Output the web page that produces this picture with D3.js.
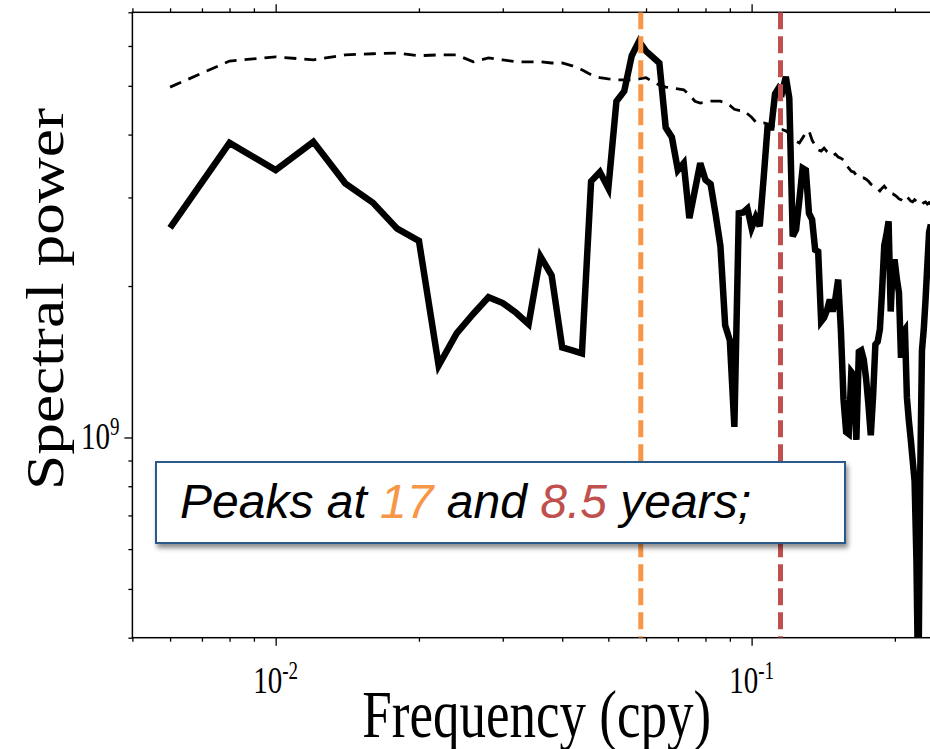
<!DOCTYPE html>
<html>
<head>
<meta charset="utf-8">
<script src="https://cdn.jsdelivr.net/npm/d3@7"></script>
<style>
  body { margin: 0; background: #fff; }
  svg { display: block; }
  .axis path { stroke: none; }
  .axis line { stroke: #000; stroke-width: 1.3; }
</style>
</head>
<body>
<div id="chart"></div>
<script>
// periodogram bins are 0.002 cpy apart, first bin k = 3
var binStep = 0.002;
var firstBin = 3;

// spectral power of the record, in units of 1e9
var spectrum = [
  2.61, 3.85, 3.40, 3.87, 3.20, 2.93, 2.60, 2.46, 1.39, 1.61,
  1.76, 1.90, 1.85, 1.77, 1.68, 2.29, 2.10, 1.51, 1.49, 1.47,
  3.23, 3.37, 3.13, 4.66, 4.88, 5.74, 6.13, 5.86, 5.70, 5.55,
  4.13, 3.95, 3.40, 3.51, 2.73, 3.10, 3.51, 3.25, 3.19, 2.78,
  2.40, 1.67, 1.56, 1.05, 2.79, 2.80, 2.85, 2.61, 2.74, 2.63,
  3.28, 4.13, 4.13, 4.82, 4.95, 4.87, 5.21, 4.73, 2.51, 2.59,
  2.97, 3.43, 3.40, 2.79, 2.71, 2.36, 2.34, 1.70, 1.73, 1.79,
  1.88, 1.78, 1.89, 2.06, 1.64, 1.19, 1.025, 1.016, 1.35, 1.33,
  0.989, 1.48, 1.49, 1.43, 1.31, 1.16, 1.01, 1.21, 1.53, 1.55,
  1.64, 1.96, 2.41, 2.53, 2.69, 1.78, 2.23, 2.23, 2.06, 1.94,
  1.44, 1.62, 1.64, 1.20, 1.08, 0.99, 0.90, 0.82, 0.57, 0.30,
  0.82, 1.49, 1.64, 1.88, 2.20, 2.56, 2.65
];

// significance level (dashed), same bins, units of 1e9
var noiseLevel = [
  4.97, 5.60, 5.71, 5.63, 5.76, 5.79, 5.81, 5.74, 5.76, 5.76,
  5.58, 5.68, 5.63, 5.58, 5.58, 5.58, 5.55, 5.55, 5.48, 5.38,
  5.26, 5.19, 5.16, 5.14, 5.14, 5.14, 5.16, 5.19, 5.09, 5.02,
  4.97, 4.95, 4.93, 4.91, 4.80, 4.66, 4.62, 4.64, 4.66, 4.66,
  4.66, 4.62, 4.57, 4.49, 4.47, 4.47, 4.40, 4.33, 4.24, 4.22,
  4.22, 4.20, 4.18, 4.13, 4.09, 4.09, 4.07, 4.01, 3.95, 3.88,
  3.85, 3.94, 4.03, 4.07, 3.90, 3.80, 3.73, 3.71, 3.76, 3.70,
  3.66, 3.63, 3.66, 3.61, 3.59, 3.56, 3.48, 3.43, 3.38, 3.37,
  3.32, 3.29, 3.28, 3.28, 3.26, 3.23, 3.19, 3.16, 3.13, 3.12,
  3.09, 3.13, 3.16, 3.12, 3.08, 3.06, 3.05, 3.03, 3.01, 2.98,
  2.97, 2.95, 2.98, 3.01, 2.98, 2.95, 2.94, 2.97, 2.95, 2.93,
  2.91, 2.90, 2.93, 2.94, 2.91, 2.93, 2.91
];

var peakFreqs = [0.0585, 0.115];
var peakColors = ['#F79646', '#C0504D'];
var peakLabels = ['17', '8.5'];

var xMajor = [0.01, 0.1];
var xMajorExp = ['-2', '-1'];
var xMinor = [0.005, 0.006, 0.007, 0.008, 0.009, 0.02, 0.03, 0.04, 0.05,
  0.06, 0.07, 0.08, 0.09, 0.2];
var yMajor = [1e9];
var yMajorExp = ['9'];
var yMinor = [4e8, 5e8, 6e8, 7e8, 8e8, 9e8, 2e9, 3e9, 4e9, 5e9, 6e9, 7e9];

var W = 930, H = 749;
var plot = { left: 132.4, right: 941, top: 12.3, bottom: 637.7 };
var stretch = 1.28; // the whole figure is pulled taller than wide
var serif = '"Liberation Serif", "Times New Roman", serif';

var svg = d3.select('#chart').append('svg')
  .attr('width', W)
  .attr('height', H);

var xScale = d3.scaleLog()
  .domain([0.005, 0.25])
  .range([plot.left, plot.right]);

var yScale = d3.scaleLog()
  .domain([4e8, 7e9])
  .range([plot.bottom, plot.top]);

var rows = spectrum.map(function(d, i) {
  return {
    f: (firstBin + i) * binStep,
    p: d * 1e9,
    n: noiseLevel[i] * 1e9
  };
});

var defs = svg.append('defs');
defs.append('clipPath')
  .attr('id', 'plot-clip')
  .append('rect')
  .attr('x', plot.left)
  .attr('y', plot.top)
  .attr('width', plot.right - plot.left)
  .attr('height', plot.bottom - plot.top);

var shadow = defs.append('filter')
  .attr('id', 'shadow')
  .attr('x', '-10%').attr('y', '-20%')
  .attr('width', '120%').attr('height', '150%');
shadow.append('feDropShadow')
  .attr('dx', 2).attr('dy', 4)
  .attr('stdDeviation', 2.5)
  .attr('flood-color', '#000')
  .attr('flood-opacity', 0.45);

// ---- ticks ----
function addTicks(axisFn, scale, values, size, transform) {
  svg.append('g')
    .attr('class', 'axis')
    .attr('transform', transform)
    .call(axisFn(scale).tickValues(values).tickSize(size)
      .tickSizeOuter(0).tickFormat(''));
}
addTicks(d3.axisBottom, xScale, xMinor, 4, 'translate(0,' + plot.bottom + ')');
addTicks(d3.axisBottom, xScale, xMajor, 8, 'translate(0,' + plot.bottom + ')');
addTicks(d3.axisTop, xScale, xMinor, 4, 'translate(0,' + plot.top + ')');
addTicks(d3.axisTop, xScale, xMajor, 8, 'translate(0,' + plot.top + ')');
addTicks(d3.axisLeft, yScale, yMinor, 4, 'translate(' + plot.left + ',0)');
addTicks(d3.axisLeft, yScale, yMajor, 8, 'translate(' + plot.left + ',0)');

svg.append('rect')
  .attr('x', plot.left)
  .attr('y', plot.top)
  .attr('width', plot.right - plot.left)
  .attr('height', plot.bottom - plot.top)
  .attr('fill', 'none')
  .attr('stroke', '#000')
  .attr('stroke-width', 1.5);

// ---- tick labels (10^n) ----
function powerLabel(x, y, anchor, exp) {
  var t = svg.append('text')
    .attr('transform', 'translate(' + x + ',' + y + ') scale(1,' + stretch + ')')
    .attr('text-anchor', anchor)
    .style('font-family', serif)
    .style('font-size', '29px')
    .attr('fill', '#000');
  t.append('tspan').text('10');
  t.append('tspan')
    .attr('dy', -11)
    .style('font-size', '19px')
    .text(exp);
}
xMajor.forEach(function(d, i) {
  powerLabel(xScale(d), 693, 'middle', xMajorExp[i]);
});
yMajor.forEach(function(d, i) {
  powerLabel(plot.left - 13, yScale(d) + 12, 'end', yMajorExp[i]);
});

// ---- axis titles ----
svg.append('text')
  .attr('transform', 'translate(' + (plot.left + plot.right) / 2 + ',737) scale(1,' + stretch + ')')
  .attr('text-anchor', 'middle')
  .style('font-family', serif)
  .style('font-size', '53px')
  .text('Frequency (cpy)');

svg.append('text')
  .attr('transform', 'translate(63,299) scale(1,1.22) rotate(-90)')
  .attr('text-anchor', 'middle')
  .style('font-family', serif)
  .style('font-size', '52px')
  .text('Spectral power');

// ---- data lines ----
var lines = svg.append('g').attr('clip-path', 'url(#plot-clip)');

var noiseLine = d3.line()
  .x(function(d) { return xScale(d.f); })
  .y(function(d) { return yScale(d.n); });

var powerLine = d3.line()
  .x(function(d) { return xScale(d.f); })
  .y(function(d) { return yScale(d.p); });

lines.append('path')
  .datum(rows)
  .attr('fill', 'none')
  .attr('stroke', '#000')
  .attr('stroke-width', 2.8)
  .attr('stroke-dasharray', '12,8')
  .attr('d', noiseLine);

lines.append('path')
  .datum(rows)
  .attr('fill', 'none')
  .attr('stroke', '#000')
  .attr('stroke-width', 6.5)
  .attr('stroke-linejoin', 'miter')
  .attr('d', powerLine);

lines.selectAll('.peak')
  .data(peakFreqs)
  .enter()
  .append('line')
  .attr('class', 'peak')
  .attr('x1', function(d) { return xScale(d); })
  .attr('x2', function(d) { return xScale(d); })
  .attr('y1', plot.top)
  .attr('y2', plot.bottom)
  .attr('stroke', function(d, i) { return peakColors[i]; })
  .attr('stroke-width', 5)
  .attr('stroke-dasharray', '17,7');

// ---- annotation box ----
svg.append('rect')
  .attr('x', 156)
  .attr('y', 462)
  .attr('width', 689)
  .attr('height', 81)
  .attr('fill', '#fff')
  .attr('stroke', '#2C5A8C')
  .attr('stroke-width', 2)
  .attr('filter', 'url(#shadow)');

var note = svg.append('text')
  .attr('x', 180)
  .attr('y', 518)
  .style('font-family', '"Liberation Sans", Arial, sans-serif')
  .style('font-style', 'italic')
  .style('font-size', '48px')
  .attr('fill', '#000');
note.append('tspan').text('Peaks at ');
note.append('tspan').attr('fill', peakColors[0]).text(peakLabels[0]);
note.append('tspan').text(' and ');
note.append('tspan').attr('fill', peakColors[1]).text(peakLabels[1]);
note.append('tspan').text(' years;');
</script>
</body>
</html>
